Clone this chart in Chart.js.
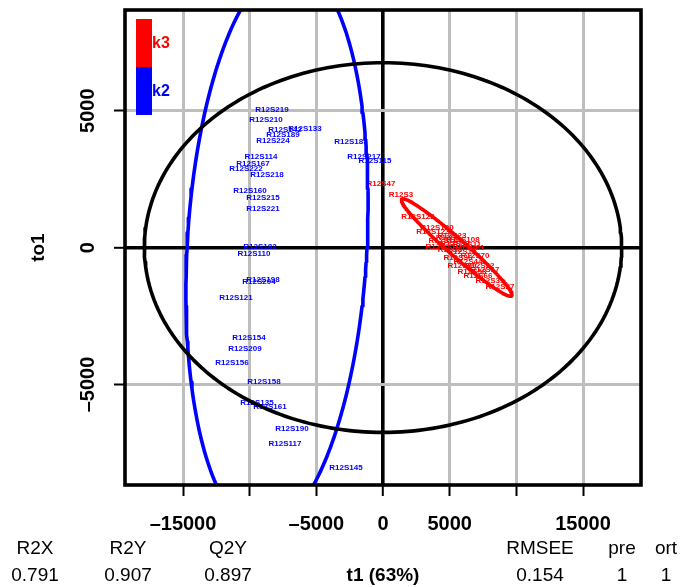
<html>
<head>
  <meta charset="utf-8">
  <title>OPLS-DA scores</title>
  <script src="https://cdn.jsdelivr.net/npm/chart.js"></script>
  <style>
    body { margin: 0; background: white; }
  </style>
</head>
<body>
<canvas id="scores" width="684" height="587"></canvas>
<script>
// k2 samples (blue)
const k2Names = ['R12S219', 'R12S210', 'R12S142', 'R12S133', 'R12S189', 'R12S224', 'R12S183', 'R12S114',
  'R12S217', 'R12S115', 'R12S167', 'R12S222', 'R12S218', 'R12S160', 'R12S215', 'R12S221',
  'R12S182', 'R12S110', 'R12S198', 'R12S204', 'R12S121', 'R12S154', 'R12S209', 'R12S156',
  'R12S158', 'R12S135', 'R12S161', 'R12S190', 'R12S117', 'R12S145'];
const k2T1 = [-8325, -8775, -7350, -5850, -7500, -8250, -2400, -9150,
  -1425, -600, -9750, -10275, -8700, -9975, -9000, -9000,
  -9225, -9675, -9000, -9300, -11025, -10050, -10350, -11325,
  -8925, -9450, -8475, -6825, -7350, -2775];
const k2To1 = [5026, 4661, 4296, 4333, 4113, 3895, 3858, 3311,
  3311, 3165, 3055, 2872, 2653, 2069, 1814, 1412,
  26, -230, -1179, -1252, -1836, -3296, -3698, -4209,
  -4902, -5669, -5815, -6618, -7166, -8042];

// k3 samples (red)
const k3Names = ['R12S47', 'R12S3', 'R12S122', 'R12S120', 'R12S123', 'R12S108', 'R12S5', 'R12S14',
  'R12S33', 'R12S61', 'R12S8', 'R12S19', 'R12S25', 'R12S70', 'R12S36', 'R12S44',
  'R12S52', 'R12S90', 'R12S17', 'R12S58', 'R12S66', 'R12S31', 'R12S27', 'R12S11', 'R12S23'];
const k3T1 = [-150, 1350, 2625, 4050, 3750, 6000, 4875, 4500,
  5400, 6525, 5025, 5925, 4275, 6900, 5625, 6375,
  7275, 5925, 7650, 6675, 7125, 8025, 8775, 6300, 5175];
const k3To1 = [2325, 1924, 1121, 719, 573, 281, 354, 245,
  135, -11, -84, -157, 26, -303, -376, -522,
  -668, -668, -814, -887, -1033, -1215, -1434, 99, 427];

const xTicks = [-15000, -10000, -5000, 0, 5000, 10000, 15000];
const xTickLabels = ['\u201315000', '', '\u20135000', '0', '5000', '', '15000'];
const yTicks = [-5000, 0, 5000];
const yTickLabels = ['\u20135000', '0', '5000'];

// ellipses: centre (t1, to1), first half-axis, second half-axis
const hotellingEllipse = [0, 0, 17900, 0, 0, 6750];
const k2Ellipse = [-7950, 0, 6750, 0, 1070, 10300];
const k3Ellipse = [5530, 0, 4125, -1763, -420, -233];

const summaryNames = ['R2X', 'R2Y', 'Q2Y', 'RMSEE', 'pre', 'ort'];
const summaryValues = ['0.791', '0.907', '0.897', '0.154', '1', '1'];
const xTitle = 't1 (63%)';
const yTitle = 'to1';
const groupNames = ['k3', 'k2'];

const toPoints = (xs, ys) => xs.map((x, i) => ({ x: x, y: ys[i] }));

function ellipsePoints(e) {
  const pts = [];
  for (let i = 0; i <= 240; i++) {
    const t = i / 240 * 2 * Math.PI;
    pts.push({
      x: e[0] + e[2] * Math.cos(t) + e[4] * Math.sin(t),
      y: e[1] + e[3] * Math.cos(t) + e[5] * Math.sin(t)
    });
  }
  return pts;
}

function ellipseSet(e, color, order) {
  return {
    data: ellipsePoints(e), showLine: true, borderColor: color, borderWidth: 3.6,
    borderCapStyle: 'round', borderJoinStyle: 'round',
    pointRadius: 0, clip: 0, order: order, tension: 0
  };
}

const FONT = "'Liberation Sans', Arial, sans-serif";

const scoreText = {
  id: 'scoreText',
  beforeDatasetsDraw(chart) {
    const ctx = chart.ctx;
    ctx.save();
    ctx.font = 'bold 8px ' + FONT;
    ctx.textAlign = 'center';
    ctx.textBaseline = 'middle';
    [[3, k2Names, '#0000ff'], [4, k3Names, '#ff0000']].forEach(([idx, names, col]) => {
      ctx.fillStyle = col;
      chart.getDatasetMeta(idx).data.forEach((p, i) => ctx.fillText(names[i], p.x, p.y));
    });
    ctx.restore();
  },
  afterDraw(chart) {
    const ctx = chart.ctx;
    const a = chart.chartArea;
    const ys = chart.scales.y;
    ctx.save();
    ctx.strokeStyle = 'black';
    ctx.lineWidth = 3.6;
    ctx.strokeRect(a.left, a.top, a.right - a.left, a.bottom - a.top);

    // group key
    ctx.fillStyle = '#ff0000';
    ctx.fillRect(136, 19, 16, 48);
    ctx.fillStyle = '#0000ff';
    ctx.fillRect(136, 67, 16, 48);
    ctx.font = 'bold 16px ' + FONT;
    ctx.textBaseline = 'middle';
    ctx.textAlign = 'left';
    ctx.fillStyle = '#ff0000';
    ctx.fillText(groupNames[0], 152, 44);
    ctx.fillStyle = '#0000ff';
    ctx.fillText(groupNames[1], 152, 92);

    // y tick labels and title, rotated
    ctx.fillStyle = 'black';
    ctx.textAlign = 'center';
    ctx.font = 'bold 20px ' + FONT;
    yTicks.forEach((v, i) => {
      ctx.save();
      ctx.translate(88, ys.getPixelForValue(v));
      ctx.rotate(-Math.PI / 2);
      ctx.fillText(yTickLabels[i], 0, 0);
      ctx.restore();
    });
    ctx.save();
    ctx.font = 'bold 19px ' + FONT;
    ctx.translate(39, ys.getPixelForValue(0));
    ctx.rotate(-Math.PI / 2);
    ctx.fillText(yTitle, 0, 0);
    ctx.restore();

    // model summary under the plot
    const cols = [35, 128, 228, 540, 622, 666];
    ctx.font = '19px ' + FONT;
    summaryNames.forEach((s, i) => ctx.fillText(s, cols[i], 549));
    summaryValues.forEach((s, i) => ctx.fillText(s, cols[i], 576));
    ctx.font = 'bold 19px ' + FONT;
    ctx.fillText(xTitle, chart.scales.x.getPixelForValue(0), 576);
    ctx.restore();
  }
};

const gridStyle = {
  color: c => (c.tick && c.tick.value === 0) ? 'black' : '#bebebe',
  lineWidth: c => (c.tick && c.tick.value === 0) ? 3.6 : 3,
  tickColor: 'black',
  tickWidth: 2,
  tickLength: 11
};

new Chart(document.getElementById('scores'), {
  type: 'scatter',
  data: {
    datasets: [
      ellipseSet(hotellingEllipse, 'black', 0),
      ellipseSet(k2Ellipse, '#0000ff', 1),
      ellipseSet(k3Ellipse, '#ff0000', 2),
      { label: 'k2', data: toPoints(k2T1, k2To1), pointRadius: 0, order: 3 },
      { label: 'k3', data: toPoints(k3T1, k3To1), pointRadius: 0, order: 4 }
    ]
  },
  options: {
    responsive: false,
    animation: false,
    devicePixelRatio: 1,
    layout: { padding: { left: 0, top: 10, right: 43, bottom: 0 } },
    plugins: { legend: { display: false }, tooltip: { enabled: false } },
    scales: {
      x: {
        type: 'linear', min: -19350, max: 19350,
        afterBuildTicks: s => { s.ticks = xTicks.map(v => ({ value: v })); },
        afterFit: s => { s.height = 102; },
        ticks: {
          callback: v => xTickLabels[xTicks.indexOf(v)],
          font: { family: FONT, size: 20, weight: 'bold' },
          color: 'black', padding: 16, maxRotation: 0, autoSkip: false
        },
        grid: gridStyle,
        border: { display: false }
      },
      y: {
        type: 'linear', min: -8670, max: 8675,
        afterBuildTicks: s => { s.ticks = yTicks.map(v => ({ value: v })); },
        afterFit: s => { s.width = 125; },
        ticks: { display: false },
        grid: gridStyle,
        border: { display: false }
      }
    }
  },
  plugins: [scoreText]
});
</script>
</body>
</html>
